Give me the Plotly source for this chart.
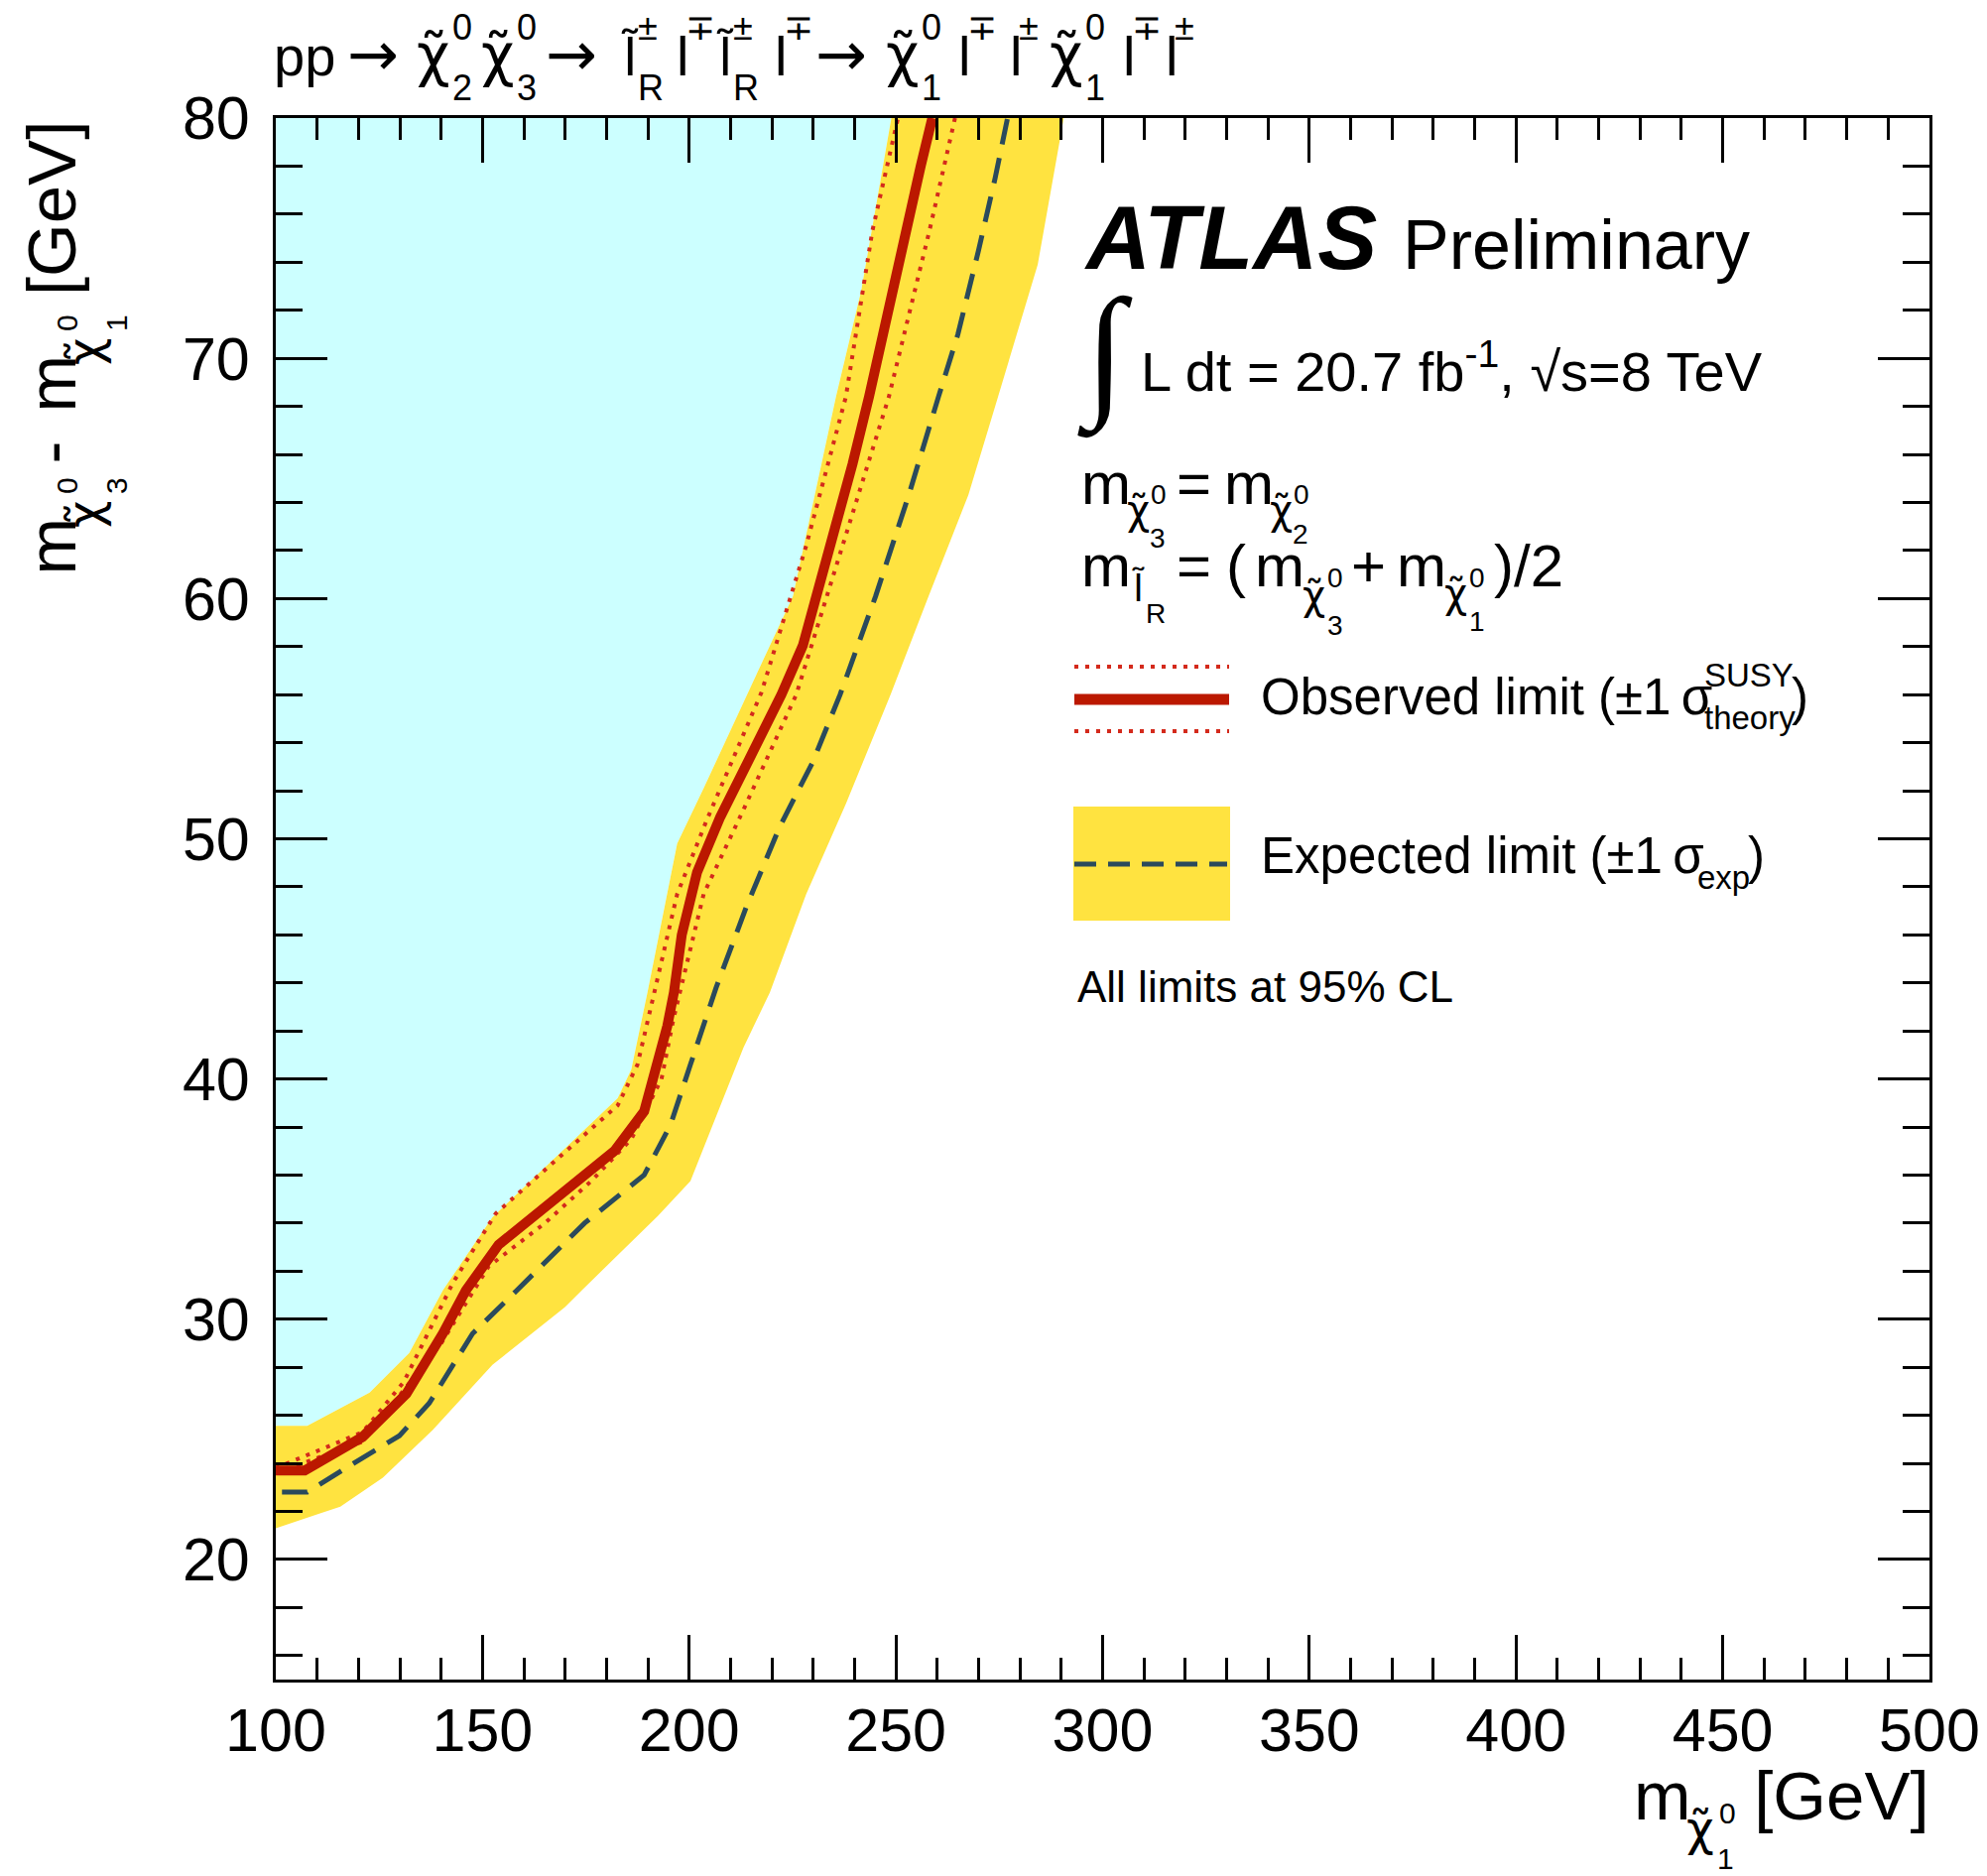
import plotly.graph_objects as go

# ---------------- data ----------------
# observed limit (solid red)
obs_x = [100, 107, 121, 131.6, 140.4, 146, 153.9, 169.2, 181.9, 189.1, 192.3, 194.7, 196.3, 198.2,
         201.9, 207.5, 215.5, 222.3, 227.5, 234.7, 239.5, 243.5, 248.0, 252.6, 256.0, 258.8]
obs_y = [23.7, 23.7, 25.1, 26.9, 29.4, 31.2, 33.1, 35.3, 37.0, 38.65, 40.6, 42.2, 43.6, 46.0,
         48.6, 50.9, 53.65, 56.0, 58.05, 62.5, 65.6, 68.4, 72.0, 75.3, 78.0, 80.0]
# observed +1 sigma theory (dotted, left)
obs_up_x = [100, 121, 131, 142.8, 153.2, 167.5, 182.7, 187.5, 191.5, 197.1, 204.3, 217.5, 228.3, 237.9, 244.3, 250.5]
obs_up_y = [23.8, 25.3, 27.4, 31.5, 34.4, 36.6, 38.9, 40.6, 43.6, 47.7, 50.8, 56.1, 62.2, 68.4, 75.3, 80.0]
# observed -1 sigma theory (dotted, right)
obs_dn_x = [100, 121, 140, 151.5, 165.1, 176.3, 186, 193.3, 196.2, 197.9, 203.5, 213.1, 225.9, 237.1, 248.3, 258.1, 264.3]
obs_dn_y = [23.6, 24.9, 29.0, 32.2, 34.0, 35.75, 37.5, 40.0, 42.5, 43.7, 47.7, 51.2, 56.0, 62.2, 68.4, 75.3, 80.0]
# expected limit (dashed)
exp_x = [101.5, 107.6, 118.8, 129.9, 137.1, 147.6, 158.0, 174.7, 189.1, 195.5, 200.3, 206.5, 213.9,
         221.9, 229.9, 236.5, 245.1, 253.1, 260.3, 265.0, 270.0, 274.0, 277.0]
exp_y = [22.8, 22.8, 24.0, 25.15, 26.5, 29.4, 31.15, 34.0, 36.0, 38.1, 40.6, 43.8, 47.2,
         50.5, 53.2, 56.0, 60.1, 64.3, 68.4, 71.0, 74.5, 77.5, 80.0]
# expected +-1 sigma band edges
band_up_x = [100, 107.6, 122.7, 132.3, 140.4, 152.4, 182.7, 186.0, 189.9, 197.1, 203.5, 214.0, 225.1, 235.5, 241.6, 248.9]
band_up_y = [25.56, 25.56, 26.94, 28.6, 31.2, 34.24, 39.2, 40.4, 43.6, 49.8, 52.1, 56.0, 60.1, 68.4, 72.8, 80.0]
band_dn_x = [100, 115.6, 125.9, 138.0, 152.4, 169.9, 174.0, 192.4, 200.3, 213.1, 219.5, 228.3, 237.9,
             248.7, 257.9, 267.5, 274.7, 284.3, 290.6]
band_dn_y = [21.3, 22.2, 23.4, 25.4, 28.1, 30.5, 31.2, 34.3, 35.75, 41.3, 43.6, 47.7, 51.45,
             56.0, 60.1, 64.3, 68.4, 73.9, 80.0]

x_range = [100, 500]
y_range = [15, 80]
x_ticks = [100, 150, 200, 250, 300, 350, 400, 450, 500]
y_ticks = [20, 30, 40, 50, 60, 70, 80]

# ---------------- styling ----------------
CYAN = "#ccffff"
YELLOW = "#ffe340"
RED = "#bb1800"
RED_DOT = "#d42a1c"
DASH = "#2b4a5c"
FONT = "Liberation Sans, Arial, Helvetica, sans-serif"
GREEK = "DejaVu Sans, sans-serif"

W, H = 2003, 1891
ML, MR, MT, MB = 278, 58, 119, 198
PW, PH = W - ML - MR, H - MT - MB


def paper(X, Y):
    return (X - ML) / PW, 1 - (Y - MT) / PH


ann = []


def put(X, Yb, s, size, xanchor="left", bold=False, italic=False, family=FONT):
    """place text with its baseline at page pixel Yb"""
    if italic:
        s = "<i>" + s + "</i>"
    if bold:
        s = "<b>" + s + "</b>"
    x, y = paper(X, Yb - 0.3465 * size)
    ann.append(dict(xref="paper", yref="paper", x=x, y=y, text=s, showarrow=False,
                    xanchor=xanchor, yanchor="middle", borderpad=0, borderwidth=0,
                    font=dict(size=size, family=family, color="black")))


def put_rot(Xb, Ystart, s, size, family=FONT, along="bottom"):
    """vertical text reading upward, baseline at page x Xb, starting at page y Ystart"""
    x, y = paper(Xb - 0.3465 * size, Ystart)
    ann.append(dict(xref="paper", yref="paper", x=x, y=y, text=s, showarrow=False,
                    textangle=-90, xanchor="center", yanchor=along, borderpad=0, borderwidth=0,
                    font=dict(size=size, family=family, color="black")))


CHI = "\u03c7\u0303"
LTI = "l\u0303"


def chi(X, Yb, size):
    put(X, Yb, CHI, size, family=GREEK)


def ltilde(X, Yb, size):
    put(X, Yb, LTI, size, family=GREEK)


def chi_rot(Xb, Ystart, size):
    put_rot(Xb, Ystart, CHI, size, family=GREEK)


fig = go.Figure()

# excluded region (cyan) bounded by the band's upper edge
fig.add_trace(go.Scatter(x=band_up_x + [x_range[0]], y=band_up_y + [y_range[1]], fill="toself",
                         fillcolor=CYAN, mode="none", hoverinfo="skip", showlegend=False))
# expected +-1 sigma band
fig.add_trace(go.Scatter(x=band_up_x + band_dn_x[::-1], y=band_up_y + band_dn_y[::-1], fill="toself",
                         fillcolor=YELLOW, mode="none", hoverinfo="skip", showlegend=False))
# expected limit
fig.add_trace(go.Scatter(x=exp_x, y=exp_y, mode="lines", showlegend=False,
                         line=dict(color=DASH, width=5, dash="26px,14px")))
# theory variations
fig.add_trace(go.Scatter(x=obs_up_x, y=obs_up_y, mode="lines", showlegend=False,
                         line=dict(color=RED_DOT, width=4, dash="4px,7px")))
fig.add_trace(go.Scatter(x=obs_dn_x, y=obs_dn_y, mode="lines", showlegend=False,
                         line=dict(color=RED_DOT, width=4, dash="4px,7px")))
# observed limit
fig.add_trace(go.Scatter(x=obs_x, y=obs_y, mode="lines", showlegend=False,
                         line=dict(color=RED, width=10)))

# ---------------- text ----------------
# title
TB = 76
TS, CS, SS = 56, 58, 36
put(276, TB, "pp", TS)
for X in (350, 550, 822):
    put(X, TB, "\u2192", 62, family=GREEK)
for X, sub in ((420, "2"), (485, "3"), (893, "1"), (1058, "1")):
    chi(X, TB, CS)
    put(X + 36, TB - 36, "0", SS)
    put(X + 36, TB + 25, sub, SS)
for X in (626, 722):
    ltilde(X, TB, 52)
    put(X + 17, TB - 36, "\u00b1", SS)
    put(X + 17, TB + 25, "R", SS)
for X, s in ((682, "\u2213"), (781, "\u2213"), (966, "\u2213"), (1018, "\u00b1"), (1132, "\u2213"), (1175, "\u00b1")):
    put(X, TB, "l", TS)
    put(X + 9, TB - 36, s, SS)

# ATLAS Preliminary
put(1093, 271, "ATLAS", 90, bold=True, italic=True)
put(1414, 271, "Preliminary", 70)
# luminosity line
put(1086, 408, "\u222b", 146, family="Liberation Serif, serif")
put(1150, 390, "L dt = 20.7 fb<sup>-1</sup>, \u221as=8 TeV", 56)

# mass relations
MS, MSS, MS3 = 60, 40, 28
put(1090, 508, "m", MS)
chi(1136, 528, MSS)
put(1160, 508, "0", MS3)
put(1159, 552, "3", MS3)
put(1186, 508, "=", MS)
put(1234, 508, "m", MS)
chi(1280, 528, MSS)
put(1304, 508, "0", MS3)
put(1303, 548, "2", MS3)

put(1090, 591, "m", MS)
ltilde(1141, 606, 38)
put(1155, 628, "R", MS3)
put(1186, 591, "=", MS)
put(1236, 591, "(", MS)
put(1265, 591, "m", MS)
chi(1313, 614, MSS)
put(1338, 592, "0", MS3)
put(1338, 640, "3", MS3)
put(1362, 591, "+", MS)
put(1408, 591, "m", MS)
chi(1456, 612, MSS)
put(1481, 592, "0", MS3)
put(1481, 636, "1", MS3)
put(1506, 591, ")/2", MS)

# legend entries
LS, LSS = 51, 33
put(1271, 720, "Observed limit (\u00b11\u2009\u03c3", LS)
put(1718, 692, "SUSY", LSS)
put(1718, 735, "theory", LSS)
put(1806, 720, ")", LS)
put(1271, 880, "Expected limit (\u00b11\u2009\u03c3", LS)
put(1711, 896, "exp", LSS)
put(1762, 880, ")", LS)
put(1086, 1010, "All limits at 95% CL", 44)

# x-axis title
AS, ASS, AS3 = 69, 48, 30
put(1945, 1834, " [GeV]", AS, xanchor="right")
put(1647, 1834, "m", AS)
chi(1700, 1860, ASS)
put(1733, 1838, "0", AS3)
put(1731, 1884, "1", AS3)

# y-axis title (rotated, reading upward)
YB = 76
put_rot(YB, 580, "m", AS)
chi_rot(YB + 26, 532, ASS)
put_rot(YB + 2, 498, "0", AS3)
put_rot(YB + 52, 498, "3", AS3)
put_rot(YB, 468, "-", AS)
put_rot(YB, 416, "m", AS)
chi_rot(YB + 26, 368, ASS)
put_rot(YB + 2, 334, "0", AS3)
put_rot(YB + 52, 334, "1", AS3)
put_rot(YB, 298, "[GeV]", AS)

# legend symbols (layout shapes in page pixels)
shapes = []


def seg(X0, X1, Y, color, width, dash="solid"):
    x0, y = paper(X0, Y)
    x1, _ = paper(X1, Y)
    shapes.append(dict(type="line", xref="paper", yref="paper", x0=x0, x1=x1, y0=y, y1=y,
                       line=dict(color=color, width=width, dash=dash)))


bx0, by0 = paper(1082, 813)
bx1, by1 = paper(1240, 928)
shapes.append(dict(type="rect", xref="paper", yref="paper", x0=bx0, x1=bx1, y0=by1, y1=by0,
                   fillcolor=YELLOW, line=dict(width=0)))
seg(1083, 1239, 672, RED_DOT, 4, "4px,7px")
seg(1083, 1239, 737, RED_DOT, 4, "4px,7px")
seg(1083, 1239, 705, RED, 11)
seg(1083, 1237, 871, DASH, 5, "22px,12px")

axis_common = dict(showline=True, linecolor="black", linewidth=3, mirror="ticks", ticks="inside",
                   tickcolor="black", tickwidth=2.5, showgrid=False, zeroline=False,
                   tickfont=dict(family=FONT, size=61, color="black"))

fig.update_layout(
    width=W, height=H, margin=dict(l=ML, r=MR, t=MT, b=MB, autoexpand=False),
    paper_bgcolor="white", plot_bgcolor="white", showlegend=False,
    annotations=ann, shapes=shapes,
    xaxis=dict(range=x_range, tickvals=x_ticks, ticklen=45, ticklabelstandoff=-4,
               minor=dict(dtick=10, tick0=100, ticklen=22, ticks="inside", tickcolor="black", tickwidth=2.5),
               **axis_common),
    yaxis=dict(range=y_range, tickvals=y_ticks, ticklen=52, ticklabelstandoff=11,
               minor=dict(dtick=2, tick0=0, ticklen=27, ticks="inside", tickcolor="black", tickwidth=2.5),
               **axis_common),
)

fig.write_html("out.html")
